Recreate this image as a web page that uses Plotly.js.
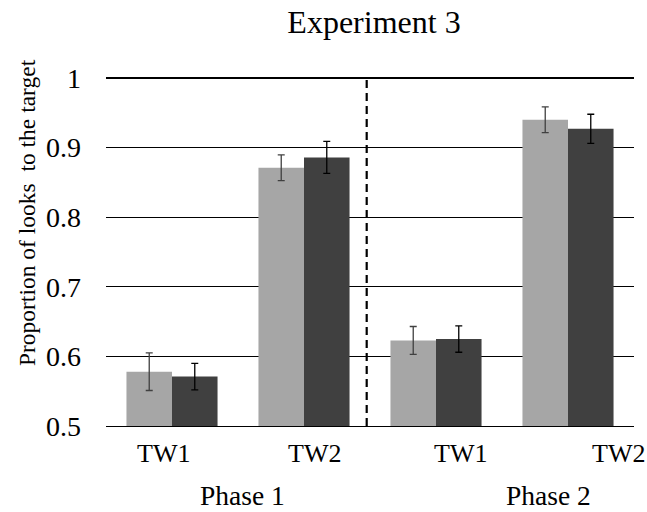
<!DOCTYPE html>
<html>
<head>
<meta charset="utf-8">
<script src="https://cdn.plot.ly/plotly-3.0.1.min.js"></script>
<style>
html,body{margin:0;padding:0;background:#fff;}
#chart{width:647px;height:512px;}
</style>
</head>
<body>
<div id="chart"></div>
<script>
// ---- data ----
const windows = ['TW1', 'TW2', 'TW1', 'TW2'];
const phases = ['Phase 1', 'Phase 2'];
const lightValues = [0.578, 0.871, 0.623, 0.940];
const lightErrors = [0.027, 0.0185, 0.020, 0.0185];
const darkValues = [0.571, 0.886, 0.625, 0.927];
const darkErrors = [0.019, 0.023, 0.019, 0.021];
const yTicks = [0.5, 0.6, 0.7, 0.8, 0.9, 1];
const yTickText = ['0.5', '0.6', '0.7', '0.8', '0.9', '1'];

// ---- layout constants ----
const positions = windows.map((_, i) => i);
const windowLabelX = [-0.063, 1.076, 2.189, 3.379];
const phaseLabelX = [0.534, 2.856];
const FONT = 'Liberation Serif';

const traces = [
  {
    type: 'bar', x: positions, y: lightValues, name: 'light',
    marker: {color: '#a6a6a6'},
    error_y: {type: 'data', array: lightErrors, visible: true, color: '#404040', thickness: 1.3, width: 3.5}
  },
  {
    type: 'bar', x: positions, y: darkValues, name: 'dark',
    marker: {color: '#404040'},
    error_y: {type: 'data', array: darkErrors, visible: true, color: '#000000', thickness: 1.3, width: 3.5}
  }
];

const annotations = [];
windows.forEach((w, i) => annotations.push({
  text: w, x: windowLabelX[i], xref: 'x', y: -0.079, yref: 'paper',
  xanchor: 'center', yanchor: 'middle', showarrow: false,
  font: {family: FONT, size: 26, color: '#000'}
}));
phases.forEach((p, i) => annotations.push({
  text: p, x: phaseLabelX[i], xref: 'x', y: -0.2, yref: 'paper',
  xanchor: 'center', yanchor: 'middle', showarrow: false,
  font: {family: FONT, size: 27.5, color: '#000'}
}));
annotations.push({
  text: 'Proportion of looks \u00a0to the target', textangle: -90,
  x: -0.1496, xref: 'paper', y: 0.61, yref: 'paper',
  xanchor: 'center', yanchor: 'middle', showarrow: false,
  font: {family: FONT, size: 23.5, color: '#000'}
});

const layout = {
  width: 647, height: 512,
  margin: {l: 106, r: 13, t: 77, b: 86},
  paper_bgcolor: '#fff', plot_bgcolor: '#fff',
  showlegend: false,
  font: {family: FONT, color: '#000'},
  barmode: 'group', bargap: 0.31, bargroupgap: 0,
  title: {
    text: 'Experiment 3', x: 374 / 647, xanchor: 'center', xref: 'container',
    y: 1 - 22 / 512, yanchor: 'middle', yref: 'container',
    font: {family: FONT, size: 32, color: '#000'}
  },
  xaxis: {
    range: [-0.5, 3.5], showticklabels: false, showgrid: false, zeroline: false,
    showline: true, linecolor: '#000', linewidth: 1.3, ticks: ''
  },
  yaxis: {
    range: [0.5, 1.0015], tickvals: yTicks, ticktext: yTickText,
    showgrid: true, gridcolor: '#000', gridwidth: 1.3, zeroline: false, showline: false,
    ticks: '', ticklabelstandoff: 24,
    tickfont: {family: FONT, size: 28, color: '#000'}
  },
  shapes: [{
    type: 'line', xref: 'x', yref: 'paper', x0: 1.475, x1: 1.475, y0: 0, y1: 1,
    line: {color: '#000', width: 2.2, dash: '8px,5px'}, layer: 'above'
  }],
  annotations: annotations
};

Plotly.newPlot('chart', traces, layout, {displayModeBar: false, staticPlot: true});
</script>
</body>
</html>
